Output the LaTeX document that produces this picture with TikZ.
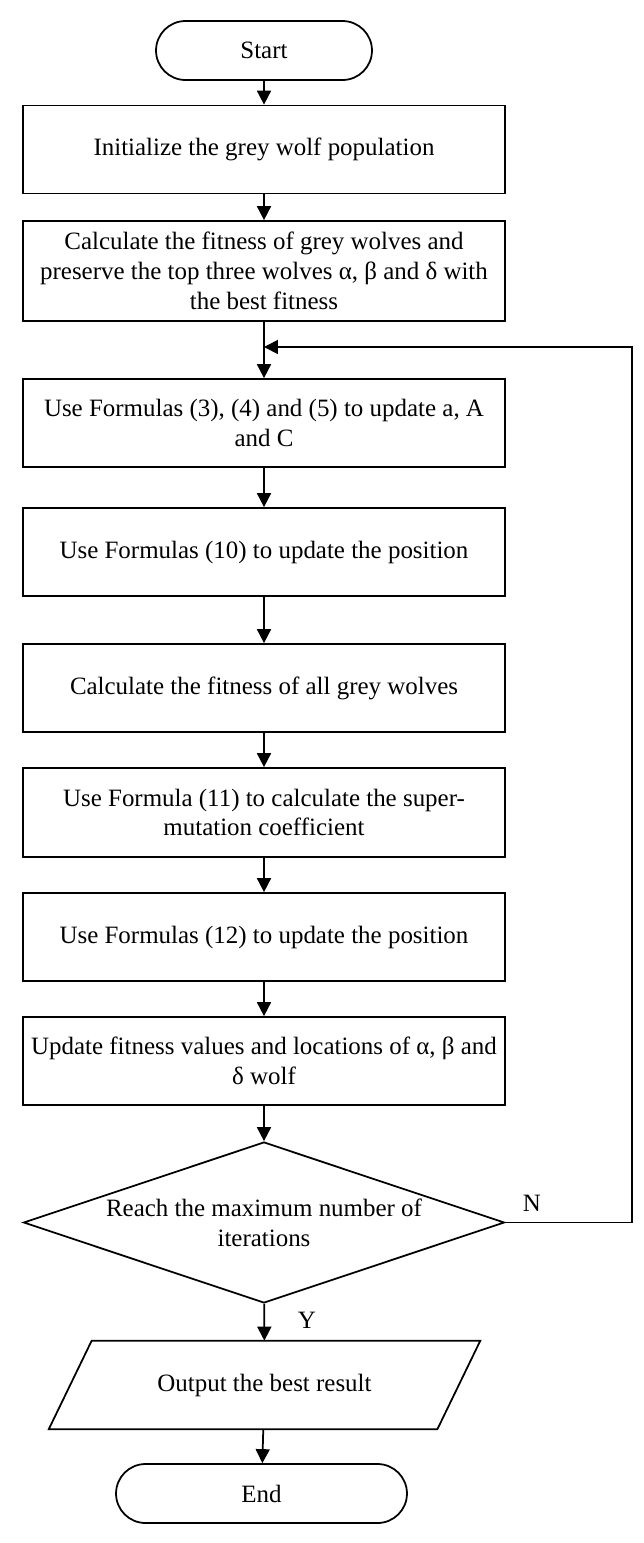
\documentclass[tikz,border=0pt]{standalone}
\usepackage{fontspec}
\setmainfont{Liberation Serif}
\usetikzlibrary{arrows.meta,shapes.geometric,shapes.misc}

\begin{document}
\begin{tikzpicture}[x=0.02cm,y=-0.02cm,
	every node/.style={font=\fontsize{14.2}{17}\selectfont},
	proc/.style={draw,line width=1pt,rectangle,minimum width=9.64cm,minimum height=1.76cm,align=center,inner sep=2pt},
	term/.style={draw,line width=1pt,rounded rectangle,minimum height=1.18cm,inner sep=0pt},
	decide/.style={draw,line width=1pt,diamond,aspect=3,minimum width=9.62cm,minimum height=3.22cm,align=center,inner sep=0pt},
	io/.style={rectangle,minimum width=8.62cm,minimum height=1.76cm,inner sep=0pt},
	link/.style={line width=1pt,-{Triangle[length=2.8mm,width=2.8mm]}}]
\useasboundingbox (0,0) rectangle (644,1543);

\node[term,minimum width=4.32cm] (start) at (264,50.5) {Start};
\node[proc] (init) at (264,149.5) {Initialize the grey wolf population};
\node[proc,minimum height=2cm] (fit) at (264,271) {Calculate the fitness of grey wolves and\\preserve the top three wolves α, β and δ with\\the best fitness};
\node[proc] (upd) at (264,423) {Use Formulas (3), (4) and (5) to update a, A\\and C};
\node[proc] (pos) at (264,552) {Use Formulas (10) to update the position};
\node[proc] (fitall) at (264,688) {Calculate the fitness of all grey wolves};
\node[proc,minimum height=1.78cm] (coef) at (264,812.5) {Use Formula (11) to calculate the super-\\mutation coefficient};
\node[proc] (pos2) at (264,937) {Use Formulas (12) to update the position};
\node[proc] (best) at (264,1061) {Update fitness values and locations of α, β and\\δ wolf};
\node[decide] (reach) at (264,1222.5) {Reach the maximum number of\\iterations};
\node[io] (out) at (264.5,1385) {Output the best result};
\node[term,minimum width=5.82cm] (end) at (261.5,1493.5) {End};
\node (no) at (532,1203) {N};
\node (yes) at (307,1320) {Y};

% slanted output box
\draw[line width=1pt] (out.south west) -- ([xshift=0.86cm]out.north west) -- (out.north east) -- ([xshift=-0.86cm]out.south east) -- cycle;

\coordinate (rt) at (632,1222.5);
\coordinate (join) at (264,347);

\draw[link] (start) -- (init);
\draw[link] (init) -- (fit);
\draw[link] (fit) -- (upd);
\draw[link] (upd) -- (pos);
\draw[link] (pos) -- (fitall);
\draw[link] (fitall) -- (coef);
\draw[link] (coef) -- (pos2);
\draw[link] (pos2) -- (best);
\draw[link] (best) -- (reach);
\draw[link] (reach) -- (out);
\draw[link] (out) -- (end);
\draw[link] (reach.east) -- (rt) |- (join);

\end{tikzpicture}
\end{document}
